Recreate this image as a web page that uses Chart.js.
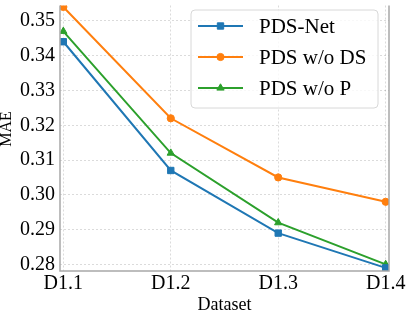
<!DOCTYPE html>
<html>
<head>
<meta charset="utf-8">
<script src="https://cdn.jsdelivr.net/npm/chart.js@4/dist/chart.umd.min.js"></script>
<style>
html,body{margin:0;padding:0;background:#fff;}
#c{display:block;}
</style>
</head>
<body>
<canvas id="c" width="407" height="314"></canvas>
<script>
const categories = ['D1.1', 'D1.2', 'D1.3', 'D1.4'];
const pdsNet = [0.344, 0.307, 0.289, 0.279];
const pdsWoDS = [0.354, 0.322, 0.305, 0.298];
const pdsWoP = [0.347, 0.312, 0.292, 0.280];
const yTicks = [0.28, 0.29, 0.30, 0.31, 0.32, 0.33, 0.34, 0.35];
const seriesNames = ['PDS-Net', 'PDS w/o DS', 'PDS w/o P'];
const xTitle = 'Dataset';
const yTitle = 'MAE';

const FONT = "'Liberation Serif', 'Times New Roman', serif";
const toXY = arr => arr.map((v, i) => ({x: i, y: v}));

const legendPlugin = {
  id: 'boxLegend',
  afterDraw(chart) {
    const ctx = chart.ctx;
    ctx.save();
    const bx = 191, by = 10, bw = 187, bh = 98, r = 4;
    ctx.beginPath();
    ctx.moveTo(bx + r, by);
    ctx.arcTo(bx + bw, by, bx + bw, by + bh, r);
    ctx.arcTo(bx + bw, by + bh, bx, by + bh, r);
    ctx.arcTo(bx, by + bh, bx, by, r);
    ctx.arcTo(bx, by, bx + bw, by, r);
    ctx.closePath();
    ctx.fillStyle = 'rgba(255,255,255,0.8)';
    ctx.fill();
    ctx.strokeStyle = '#d8d8d8';
    ctx.lineWidth = 1;
    ctx.stroke();
    const rows = [26, 57, 88];
    chart.data.datasets.forEach((ds, i) => {
      const y = rows[i];
      ctx.strokeStyle = ds.borderColor;
      ctx.lineWidth = 2;
      ctx.beginPath();
      ctx.moveTo(198, y);
      ctx.lineTo(243, y);
      ctx.stroke();
      ctx.fillStyle = ds.borderColor;
      ctx.strokeStyle = ds.borderColor;
      ctx.lineWidth = 1;
      Chart.helpers.drawPoint(ctx, {
        pointStyle: ds.pointStyle, radius: ds.pointRadius, borderWidth: 1, rotation: 0
      }, 220.5, y);
      ctx.fillStyle = '#000';
      ctx.font = "21px " + FONT;
      ctx.textBaseline = 'middle';
      ctx.textAlign = 'left';
      ctx.fillText(ds.label, 259, y + 1);
    });
    // y-axis title
    ctx.translate(7, 129);
    ctx.rotate(-Math.PI / 2);
    ctx.font = "16px " + FONT;
    ctx.textAlign = 'center';
    ctx.textBaseline = 'middle';
    ctx.fillStyle = '#000';
    ctx.fillText(yTitle, 0, 0);
    ctx.restore();
  }
};

const framePlugin = {
  id: 'frame',
  afterDatasetsDraw(chart) {
    const {ctx, chartArea: a} = chart;
    ctx.save();
    ctx.strokeStyle = '#a8a8a8';
    ctx.lineWidth = 1.5;
    ctx.beginPath();
    ctx.moveTo(a.left, a.top);
    ctx.lineTo(a.left, a.bottom);
    ctx.lineTo(a.right, a.bottom);
    ctx.lineTo(a.right, a.top);
    ctx.stroke();
    ctx.restore();
  }
};

const colors = ['#1f77b4', '#ff7f0e', '#2ca02c'];
const styles = ['rect', 'circle', 'triangle'];
const radii = [4.5, 3.6, 4.2];
const values = [pdsNet, pdsWoDS, pdsWoP];

new Chart(document.getElementById('c'), {
  type: 'line',
  data: {
    datasets: values.map((v, i) => ({
      label: seriesNames[i],
      data: toXY(v),
      borderColor: colors[i],
      backgroundColor: colors[i],
      pointBackgroundColor: colors[i],
      pointBorderColor: colors[i],
      pointStyle: styles[i],
      pointRadius: radii[i],
      pointBorderWidth: 1,
      borderWidth: 2,
      tension: 0,
      fill: false
    }))
  },
  options: {
    responsive: false,
    animation: false,
    devicePixelRatio: 1,
    layout: {padding: {top: 0, right: 18, left: 0, bottom: 0}},
    plugins: {legend: {display: false}, tooltip: {enabled: false}},
    scales: {
      x: {
        type: 'linear',
        min: -0.031,
        max: 3.031,
        afterBuildTicks: s => { s.ticks = categories.map((c, i) => ({value: i})); },
        afterFit: s => { s.height = 43; s.paddingLeft = 0; s.paddingRight = 0; },
        ticks: {
          callback: v => categories[v],
          font: {family: FONT, size: 20},
          color: '#000',
          padding: 1,
          maxRotation: 0,
          autoSkip: false
        },
        grid: {color: 'rgba(0,0,0,0.18)', lineWidth: 0.8, drawTicks: false},
        border: {display: false, dash: [2, 2]},
        title: {display: true, text: xTitle, font: {family: FONT, size: 18, lineHeight: 1.0}, color: '#000', padding: {top: 0, bottom: 0}}
      },
      y: {
        min: 0.27811,
        max: 0.35442,
        afterBuildTicks: s => { s.ticks = yTicks.map(v => ({value: v})); },
        afterFit: s => { s.width = 60; s.paddingTop = 0; s.paddingBottom = 0; },
        ticks: {
          callback: v => v.toFixed(2),
          font: {family: FONT, size: 20},
          color: '#000',
          padding: 5
        },
        grid: {color: 'rgba(0,0,0,0.18)', lineWidth: 0.8, drawTicks: false},
        border: {display: false, dash: [2, 2]},
        title: {display: false}
      }
    }
  },
  plugins: [framePlugin, legendPlugin]
});
</script>
</body>
</html>
